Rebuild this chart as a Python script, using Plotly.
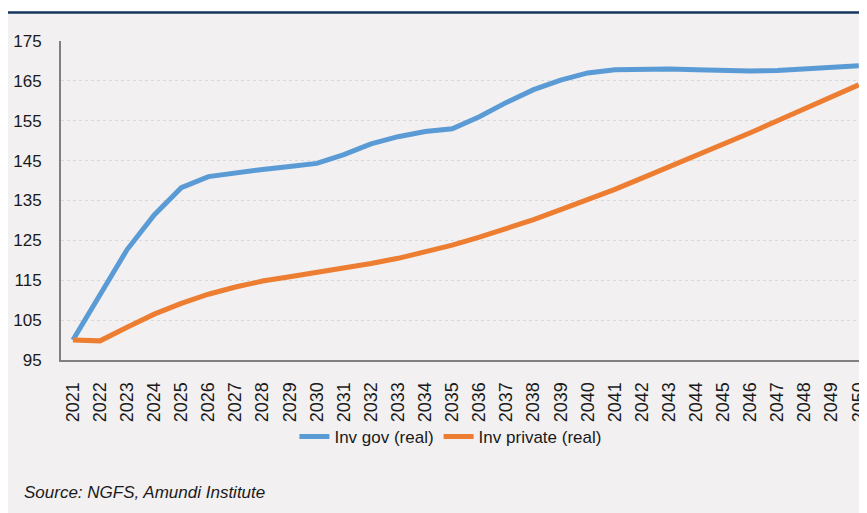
import plotly.graph_objects as go

# ---------------------------------------------------------------------------
# Data
# ---------------------------------------------------------------------------
years = [str(y) for y in range(2021, 2051)]

inv_gov = [100.0, 111.2, 122.7, 131.4, 138.2, 141.0, 142.0, 142.8, 143.5, 144.3,
           146.5, 149.2, 151.0, 152.3, 153.0, 156.0, 159.6, 162.8, 165.2, 167.0,
           167.8, 168.0, 168.0, 167.8, 167.5, 167.5, 167.6, 168.0, 168.3, 168.8]

inv_private = [100.0, 99.8, 103.2, 106.5, 109.2, 111.5, 113.3, 114.8, 115.9, 116.9,
               118.0, 119.2, 120.5, 122.1, 123.8, 125.8, 127.9, 130.2, 132.7, 135.2,
               137.8, 140.6, 143.4, 146.2, 149.1, 152.0, 155.0, 158.0, 161.0, 164.0]

y_ticks = [95, 105, 115, 125, 135, 145, 155, 165, 175]

BLUE = "#5b9bd5"
ORANGE = "#ed7d31"
BG = "#f2f0f1"
FONT = "Liberation Sans Narrow, Arial Narrow, Liberation Sans, Arial"

fig = go.Figure()
fig.add_trace(go.Scatter(x=years, y=inv_gov, mode="lines", name="Inv gov (real)",
                         line=dict(color=BLUE, width=5)))
fig.add_trace(go.Scatter(x=years, y=inv_private, mode="lines", name="Inv private (real)",
                         line=dict(color=ORANGE, width=5)))

# the page body adds an 8px margin, so the figure itself starts at (8, 8)
fig.update_layout(
    width=867, height=513,
    margin=dict(l=53, r=0, t=33, b=161),
    paper_bgcolor=BG, plot_bgcolor=BG,
    font=dict(family=FONT, size=17, color="#1a1a1a"),
    showlegend=True,
    legend=dict(orientation="h", x=0.479, xanchor="center", y=-0.241, yanchor="middle",
                bgcolor="rgba(0,0,0,0)", font=dict(size=17), tracegroupgap=0),
    xaxis=dict(type="category", range=[-0.44, 29.6], showgrid=False,
               showline=True, linecolor="#808080", linewidth=2,
               tickangle=-90, ticks="outside", ticklen=13,
               tickcolor="rgba(0,0,0,0)", tickfont=dict(size=18)),
    yaxis=dict(range=[95, 175], tickvals=y_ticks, showgrid=True,
               gridcolor="#d9d9d9", griddash="dot", gridwidth=1,
               showline=True, linecolor="#808080", linewidth=2,
               ticks="outside", ticklen=14, tickcolor="rgba(0,0,0,0)",
               zeroline=False, tickfont=dict(size=17)),
    shapes=[
        # white strip at the very top
        dict(type="rect", xref="paper", yref="paper", x0=-0.1, x1=1.01,
             y0=1.0925, y1=1.2, fillcolor="white", line_width=0, layer="below"),
        # navy rule under the title area
        dict(type="line", xref="paper", yref="paper", x0=-0.1, x1=1.01,
             y0=1.0893, y1=1.0893, line=dict(color="#17375e", width=2.5)),
    ],
    annotations=[
        dict(text="<i>Source: NGFS, Amundi Institute</i>", xref="paper", yref="paper",
             x=-0.0479, y=-0.414, xanchor="left", yanchor="middle", showarrow=False,
             font=dict(size=17, color="#1a1a1a")),
    ],
)

fig.write_html("out.html")
